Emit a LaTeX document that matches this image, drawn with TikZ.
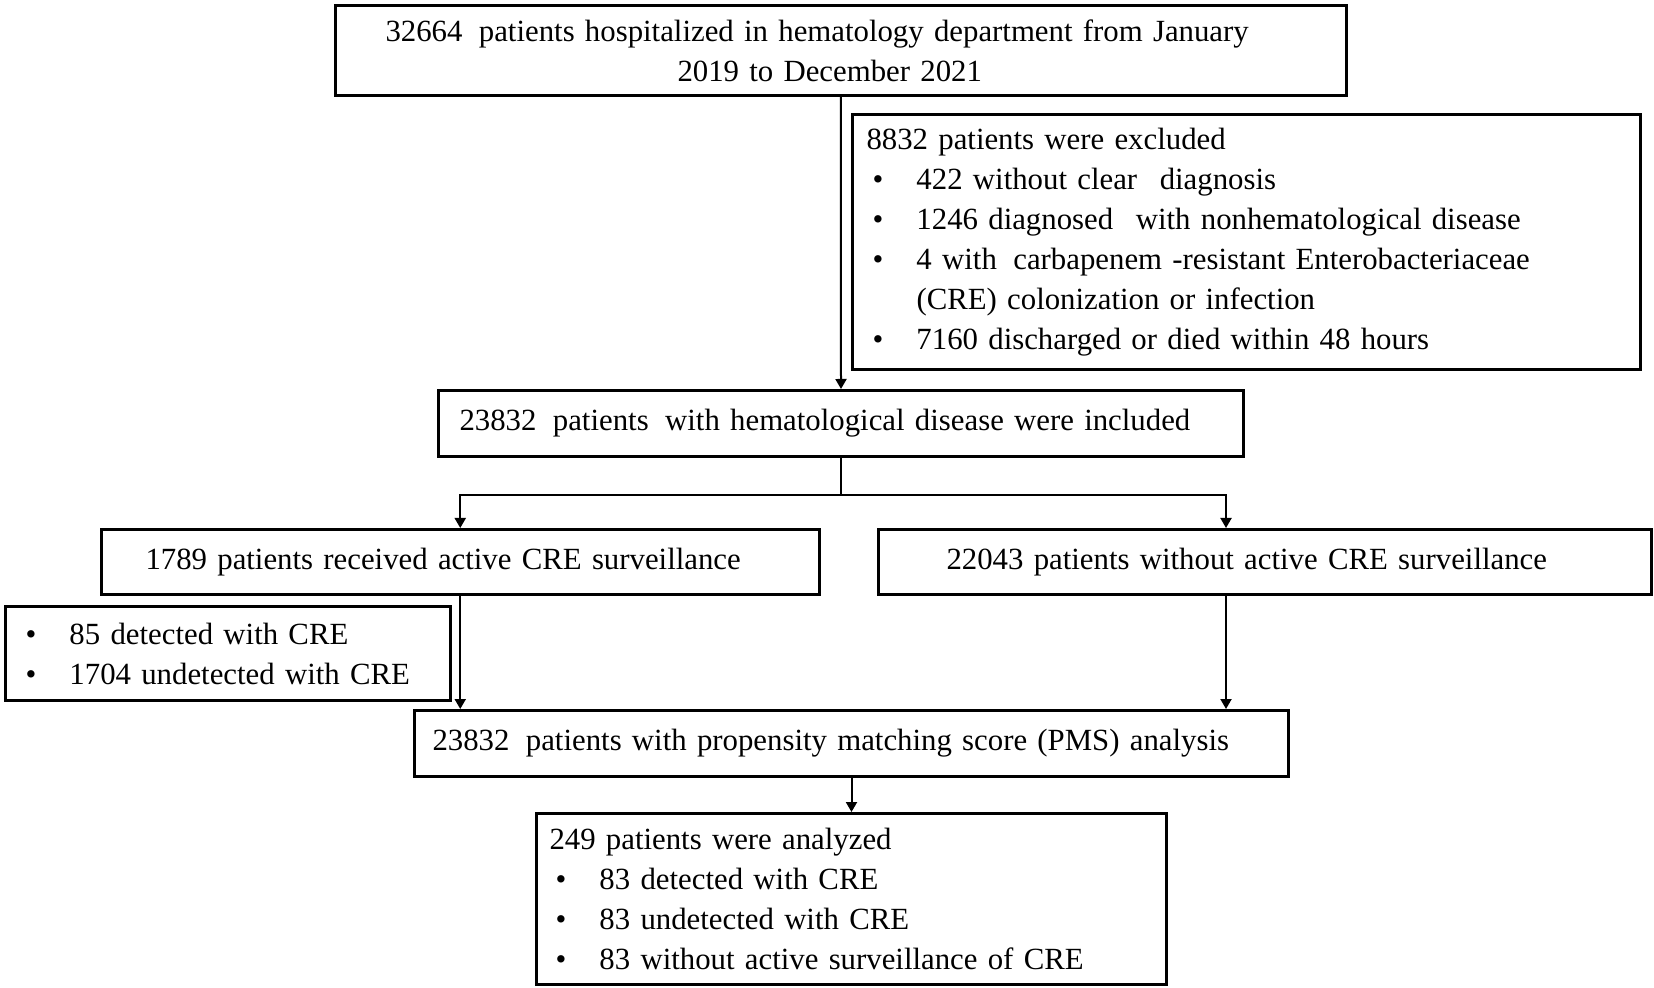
\documentclass[tikz,border=0pt]{standalone}
\usepackage{fontspec}
\setmainfont{Liberation Serif}
\usepackage{tikz}
\usetikzlibrary{arrows.meta, positioning}

\newcommand{\crebullet}{\hspace*{3pt}\makebox[22pt][l]{\textbullet}}

\tikzset{
  box/.style={draw, line width=1.5pt, rectangle, anchor=north west, align=left, inner ysep=4pt},
  flow/.style={line width=1pt, -{Triangle[length=5pt, width=5.5pt]}}
}

\begin{document}
\begin{tikzpicture}[x=0.5pt, y=-0.5pt, font=\fontsize{15.4}{20}\selectfont]
\useasboundingbox (0,0) rectangle (1654,988);

% Draw boxes
\node[box, inner xsep=25.25pt, text width=455.25pt, minimum height=45pt] (top) at (333.5,4)
  {32664 \hspace{0.2em}patients hospitalized in hematology department from January\\
   \hspace*{146pt}2019 to December 2021};

\node[box, inner xsep=7.25pt, text width=379.75pt, minimum height=127.5pt] (excl) at (850.5,113)
  {8832 patients were excluded\\
   \crebullet 422 without clear \hspace{0.4em}diagnosis\\
   \crebullet 1246 diagnosed \hspace{0.4em}with nonhematological disease\\
   \crebullet 4 with \hspace{0.2em}carbapenem -resistant Enterobacteriaceae\\
   \hspace*{25pt}(CRE) colonization or infection\\
   \crebullet 7160 discharged or died within 48 hours};

\node[box, inner xsep=10.5pt, text width=381.5pt, minimum height=33pt] (incl) at (437,389)
  {23832 \hspace{0.2em}patients \hspace{0.2em}with hematological disease were included};

\node[box, inner xsep=22.25pt, text width=314.75pt, minimum height=32.5pt] (active) at (99.5,528)
  {1789 patients received active CRE surveillance};
\node[box, inner xsep=34pt, text width=318.5pt, minimum height=32.5pt] (noactive) at (877,528)
  {22043 patients without active CRE surveillance};

\node[box, inner xsep=7pt, text width=208.5pt, minimum height=47pt] (detect) at (4,605)
  {\crebullet 85 detected with CRE\\
   \crebullet 1704 undetected with CRE};

\node[box, inner xsep=9pt, text width=419pt, minimum height=33pt] (pms) at (413,709)
  {23832 \hspace{0.2em}patients with propensity matching score (PMS) analysis};

\node[box, inner xsep=6.5pt, text width=302pt, minimum height=85.5pt] (final) at (535,812)
  {249 patients were analyzed\\
   \crebullet 83 detected with CRE\\
   \crebullet 83 undetected with CRE\\
   \crebullet 83 without active surveillance of CRE};

% Draw arrows
\coordinate (split) at ([yshift=-18.5pt]incl.south);
\coordinate (rin) at ([xshift=-19.5pt]noactive.north);
\coordinate (rout) at ([xshift=-19.5pt]noactive.south);

\draw[flow] (top.south) -- (incl.north);
\draw[flow] (incl.south) -- (split) -| (active.north);
\draw[flow] (split) -| (rin);
\draw[flow] (active.south) -- (active.south |- pms.north);
\draw[flow] (rout) -- (rout |- pms.north);
\draw[flow] (pms.south) -- (final.north);

\end{tikzpicture}
\end{document}
